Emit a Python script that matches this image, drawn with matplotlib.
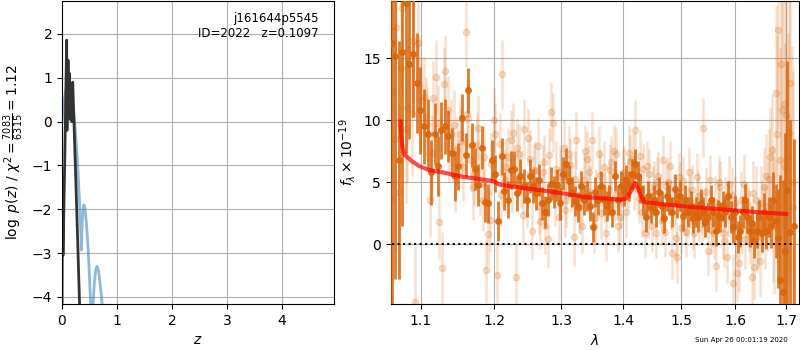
import matplotlib
matplotlib.use('Agg')
import matplotlib.pyplot as plt
import numpy as np
from matplotlib.ticker import NullLocator, NullFormatter

# --- p(z) panel ---
pz_z = [0.0, 0.03, 0.06, 0.09, 0.115, 0.14, 0.17, 0.20, 0.23, 0.26, 0.29, 0.32, 0.345, 0.351,
        0.37, 0.385, 0.40, 0.42, 0.45, 0.48, 0.50, 0.522, 0.54, 0.564, 0.59, 0.615, 0.636,
        0.665, 0.69, 0.71, 0.735, 0.76]
pz_logp = [0.0, 0.40, 0.67, 0.82, 0.85, 0.81, 0.66, 0.38, 0.0, -0.5, -1.1, -1.85, -2.6, -2.93,
           -2.25, -1.98, -1.9, -2.0, -2.4, -3.0, -3.55, -4.19, -4.5, -4.2, -3.65, -3.38, -3.3,
           -3.4, -3.65, -3.9, -4.2, -4.6]

chi_z = [0.0, 0.008, 0.018, 0.05, 0.085, 0.09, 0.11, 0.125, 0.135, 0.15, 0.165, 0.18, 0.195,
         0.21, 0.24, 0.28, 0.33]
chi_v = [-4.6, -1.6, -3.05, -0.9, 1.86, -0.2, 1.4, 0.4, 1.1, 0.05, 0.4, 0.0, 0.9, 0.3, -0.88,
         -2.5, -4.6]

# --- spectrum panel: combined (dark) points ---
dark_wave = [1.062, 1.067, 1.071, 1.076, 1.081, 1.085, 1.090, 1.095, 1.099, 1.104,
             1.109, 1.113, 1.118, 1.122, 1.127, 1.132, 1.136, 1.141, 1.146, 1.150,
             1.155, 1.160, 1.164, 1.169, 1.173, 1.178, 1.183, 1.187, 1.192, 1.197,
             1.201, 1.206, 1.211, 1.215, 1.220, 1.224, 1.229, 1.234, 1.238, 1.243,
             1.248, 1.252, 1.257, 1.262, 1.266, 1.271, 1.275, 1.280, 1.285, 1.289,
             1.294, 1.299, 1.303, 1.308, 1.313, 1.317, 1.322, 1.326, 1.331, 1.336,
             1.340, 1.345, 1.350, 1.354, 1.359, 1.364, 1.368, 1.373, 1.377, 1.382,
             1.387, 1.391, 1.396, 1.401, 1.405, 1.410, 1.415, 1.419, 1.424, 1.428,
             1.433, 1.438, 1.442, 1.447, 1.452, 1.456, 1.461, 1.466, 1.470, 1.475,
             1.479, 1.484, 1.489, 1.493, 1.498, 1.503, 1.507, 1.512, 1.517, 1.521,
             1.526, 1.530, 1.535, 1.540, 1.544, 1.549, 1.554, 1.558, 1.563, 1.568,
             1.572, 1.577, 1.581, 1.586, 1.591, 1.595, 1.600, 1.605, 1.609, 1.614,
             1.619, 1.623, 1.628, 1.632, 1.637, 1.642, 1.646, 1.651, 1.656, 1.660,
             1.665, 1.670, 1.674, 1.679, 1.683, 1.688, 1.693, 1.697, 1.702, 1.707,
             1.716]
dark_flux = [16.2, 15.2, 6.8, 15.5, 19.4, 14.5, 15.3, 13.0, 10.8, 9.5,
             8.9, 5.8, 8.9, 6.3, 9.2, 9.5, 8.7, 7.4, 5.5, 6.3,
             10.2, 7.2, 12.4, 8.0, 6.1, 4.8, 7.8, 3.4, 3.3, 6.8,
             5.7, 1.9, 7.1, 4.3, 3.6, 6.0, 6.1, 4.1, 5.5, 4.7,
             3.6, 5.5, 4.7, 4.1, 5.2, 3.3, 2.6, 3.6, 4.9, 4.2,
             4.8, 3.3, 5.7, 6.5, 5.1, 4.2, 3.5, 3.0, 4.7, 3.6,
             3.9, 3.1, 1.4, 4.2, 3.6, 4.7, 3.6, 3.1, 3.6, 2.6,
             5.5, 3.6, 4.7, 4.3, 5.2, 4.7, 5.7, 6.5, 5.5, 4.5,
             3.6, 2.2, 3.9, 2.9, 3.6, 2.6, 4.2, 3.1, 2.1, 3.9,
             3.6, 2.6, 4.5, 3.3, 3.9, 2.3, 3.6, 2.6, 3.1, 2.1,
             2.6, 2.2, 3.3, 2.6, 1.8, 2.2, 3.6, 2.6, 1.1, 2.4,
             2.2, 3.1, 2.6, 3.9, 2.2, 1.4, 2.6, 0.6, 1.1, 2.6,
             3.6, 2.2, 1.1, 1.7, 0.3, 1.1, 2.2, 0.9, 2.6, 1.1,
             2.2, 1.5, 3.6, 1.9, 0.5, -2.9, -3.8, -0.5, 4.4, 1.0,
             1.5]
dark_err = [22, 18, 9.6, 14, 12, 6.0, 5.0, 4.0, 3.5, 3.0,
            2.8, 2.6, 2.5, 2.4, 2.3, 2.2, 2.1, 2.0, 2.0, 1.9,
            1.9, 1.8, 1.8, 1.8, 1.7, 1.7, 1.7, 1.6, 1.6, 1.6,
            1.5, 1.6, 1.5, 1.5, 1.5, 1.5, 1.4, 1.4, 1.4, 1.4,
            1.4, 1.4, 1.4, 1.3, 1.3, 1.3, 1.3, 1.3, 1.3, 1.3,
            1.3, 1.3, 1.3, 1.3, 1.3, 1.2, 1.2, 1.2, 1.2, 1.2,
            1.2, 1.2, 1.2, 1.2, 1.2, 1.2, 1.2, 1.2, 1.2, 1.2,
            1.2, 1.2, 1.2, 1.2, 1.2, 1.2, 1.2, 1.2, 1.2, 1.2,
            1.2, 1.2, 1.2, 1.2, 1.2, 1.2, 1.2, 1.2, 1.2, 1.2,
            1.2, 1.2, 1.2, 1.2, 1.2, 1.2, 1.2, 1.2, 1.2, 1.2,
            1.2, 1.2, 1.2, 1.2, 1.2, 1.2, 1.2, 1.2, 1.2, 1.2,
            1.2, 1.2, 1.2, 1.2, 1.3, 1.3, 1.3, 1.3, 1.3, 1.3,
            1.3, 1.3, 1.3, 1.4, 1.4, 1.4, 1.4, 1.5, 1.5, 1.5,
            1.6, 1.8, 2.2, 3.0, 4.0, 8.5, 9.0, 9.5, 10.4, 9.0,
            7.0]

# --- spectrum panel: individual (light) points, first set ---
light_wave = [1.064, 1.068, 1.072, 1.076, 1.080, 1.084, 1.088, 1.092, 1.096, 1.100,
              1.104, 1.108, 1.112, 1.116, 1.120, 1.124, 1.128, 1.132, 1.136, 1.140,
              1.144, 1.148, 1.152, 1.156, 1.160, 1.164, 1.168, 1.172, 1.176, 1.180,
              1.184, 1.188, 1.192, 1.196, 1.200, 1.204, 1.208, 1.212, 1.216, 1.220,
              1.224, 1.228, 1.232, 1.236, 1.240, 1.244, 1.248, 1.252, 1.256, 1.260,
              1.264, 1.268, 1.272, 1.276, 1.280, 1.284, 1.288, 1.292, 1.296, 1.300,
              1.304, 1.308, 1.312, 1.316, 1.320, 1.324, 1.328, 1.332, 1.336, 1.340,
              1.344, 1.348, 1.352, 1.356, 1.360, 1.364, 1.368, 1.372, 1.376, 1.380,
              1.384, 1.388, 1.392, 1.396, 1.400, 1.404, 1.408, 1.412, 1.416, 1.420,
              1.424, 1.428, 1.432, 1.436, 1.440, 1.444, 1.448, 1.452, 1.456, 1.460,
              1.464, 1.468, 1.472, 1.476, 1.480, 1.484, 1.488, 1.492, 1.496, 1.500,
              1.504, 1.508, 1.512, 1.516, 1.520, 1.524, 1.528, 1.532, 1.536, 1.540,
              1.544, 1.548, 1.552, 1.556, 1.560, 1.564, 1.568, 1.572, 1.576, 1.580,
              1.584, 1.588, 1.592, 1.596, 1.600, 1.604, 1.608, 1.612, 1.616, 1.620,
              1.624, 1.628, 1.632, 1.636, 1.640, 1.644, 1.648, 1.652, 1.656, 1.660,
              1.664, 1.668, 1.672, 1.676, 1.680, 1.684, 1.688, 1.692, 1.696, 1.700,
              1.704, 1.708, 1.712]
light_flux = [12.3, 17.5, 4.2, 19.0, 9.3, 15.7, 10.5, -4.6, 16.2, 11.6,
              11.9, 9.7, 3.6, 11.8, 13.5, 1.8, -1.9, 14.0, 10.8, 8.9,
              9.6, 7.6, 8.9, 6.2, 17.1, 10.2, 6.8, 5.7, 8.0, 4.9,
              3.6, -2.1, 0.8, 6.5, 10.0, -2.5, 8.1, 13.7, 5.2, 7.0,
              8.4, 9.0, -2.6, 7.3, 5.2, 9.3, 3.6, 6.9, 1.1, 6.0,
              7.9, 1.9, 5.8, 1.5, 0.4, 10.7, 9.8, 6.1, 2.2, 5.4,
              7.8, 3.6, 7.3, 4.8, 0.6, 8.4, 3.1, 1.5, 5.2, 6.9,
              5.8, 8.4, 1.5, 4.0, 7.3, 2.5, 6.2, 0.9, 4.4, 6.6,
              7.5, 7.3, 1.5, 3.4, 5.6, 2.6, 4.9, 6.7, 6.9, 9.2,
              4.4, 7.1, 2.6, 0.9, 6.3, 5.7, 1.5, 4.7, 0.9, 5.5,
              3.1, 6.8, 1.0, 5.0, 6.3, -0.7, 3.6, -1.0, 5.4, 1.3,
              5.1, 1.0, 2.6, 3.6, 4.4, 0.9, 5.4, 2.2, 3.0, 9.4,
              2.6, -0.5, 5.2, 1.8, 0.9, -1.7, 3.1, 4.6, 0.9, 3.3,
              -1.0, 4.9, 2.4, -3.1, 3.3, -2.3, -1.5, 1.5, 4.9, 2.6,
              2.2, 0.9, -2.6, -1.8, 3.6, 0.9, -1.3, 2.2, 4.6, 5.5,
              3.1, 7.0, 7.6, 1.5, 12.2, 17.3, 6.8, 10.8, 11.3, 10.4,
              7.0, 13.0, 5.0]
light_err = [9, 8, 7, 7, 6, 5, 5, 4.5, 4, 3.5,
             3.2, 3.0, 3.0, 3.0, 3.0, 3.0, 2.9, 2.8, 2.8, 2.8,
             2.8, 2.7, 2.7, 2.7, 2.8, 2.6, 2.6, 2.6, 2.6, 2.5,
             2.5, 2.6, 2.5, 2.5, 2.6, 2.5, 2.5, 2.8, 2.4, 2.4,
             2.4, 2.4, 2.6, 2.4, 2.3, 2.4, 2.3, 2.3, 2.3, 2.3,
             2.3, 2.3, 2.2, 2.3, 2.3, 2.4, 2.4, 2.2, 2.2, 2.2,
             2.2, 2.2, 2.2, 2.2, 2.3, 2.3, 2.2, 2.2, 2.2, 2.2,
             2.2, 2.3, 2.2, 2.1, 2.2, 2.1, 2.1, 2.2, 2.1, 2.1,
             2.1, 2.1, 2.1, 2.1, 2.1, 2.1, 2.1, 2.1, 2.1, 2.4,
             2.0, 2.1, 2.0, 2.0, 2.0, 2.0, 2.0, 2.0, 2.0, 2.0,
             2.0, 2.0, 2.0, 2.0, 2.0, 2.1, 2.0, 2.1, 2.0, 2.0,
             2.0, 2.0, 2.0, 2.0, 2.0, 2.0, 2.0, 2.0, 2.0, 2.4,
             2.0, 2.0, 2.0, 2.0, 2.1, 2.1, 2.1, 2.1, 2.1, 2.1,
             2.1, 2.2, 2.2, 2.3, 2.2, 2.3, 2.3, 2.3, 2.4, 2.4,
             2.4, 2.5, 2.6, 2.6, 2.7, 2.8, 2.9, 3.0, 3.2, 3.4,
             3.6, 4.0, 4.5, 5.5, 7.0, 8.0, 9.0, 9.5, 10, 10,
             10, 11, 11]

# --- individual (light) points, second set ---
light2_wave = [1.066, 1.074, 1.082, 1.090, 1.098, 1.106, 1.114, 1.122, 1.130, 1.138,
               1.146, 1.154, 1.162, 1.170, 1.178, 1.186, 1.194, 1.202, 1.210, 1.218,
               1.226, 1.234, 1.242, 1.250, 1.258, 1.266, 1.274, 1.282, 1.290, 1.298,
               1.306, 1.314, 1.322, 1.330, 1.338, 1.346, 1.354, 1.362, 1.370, 1.378,
               1.386, 1.394, 1.402, 1.410, 1.418, 1.426, 1.434, 1.442, 1.450, 1.458,
               1.466, 1.474, 1.482, 1.490, 1.498, 1.506, 1.514, 1.522, 1.530, 1.538,
               1.546, 1.554, 1.562, 1.570, 1.578, 1.586, 1.594, 1.602, 1.610, 1.618,
               1.626, 1.634, 1.642, 1.650, 1.658, 1.666, 1.674, 1.682, 1.690, 1.698,
               1.706, 1.714]
light2_flux = [8.5, 14.2, 11.0, 16.4, 12.8, 10.3, 7.4, 9.8, 12.9, 7.8,
               5.3, 8.3, 10.5, 4.6, 9.4, 7.0, 2.0, 8.9, 4.0, 6.2,
               4.9, 7.8, 2.4, 8.6, 5.9, 3.1, 6.6, 7.2, 3.7, 5.8,
               2.8, 6.4, 5.3, 3.0, 7.5, 4.2, 2.1, 5.6, 3.8, 6.0,
               4.0, 2.2, 5.8, 7.4, 4.9, 3.7, 6.1, 2.4, 4.3, 5.0,
               2.0, 4.7, 3.2, 0.5, 4.6, 2.7, 5.8, 1.6, 3.9, 2.3,
               4.2, 1.2, 3.4, 5.0, 0.3, 2.9, 4.0, 1.1, 3.6, 0.4,
               1.9, 4.1, 0.6, 3.3, 1.4, 5.3, 2.5, 8.9, 14.5, 6.2,
               9.0, 3.0]
light2_err = [9, 7, 6, 5, 4, 3.2, 3.0, 3.0, 2.9, 2.8,
              2.7, 2.7, 2.7, 2.6, 2.6, 2.5, 2.5, 2.5, 2.5, 2.4,
              2.4, 2.4, 2.3, 2.3, 2.3, 2.3, 2.2, 2.2, 2.2, 2.2,
              2.2, 2.2, 2.2, 2.2, 2.1, 2.1, 2.1, 2.1, 2.1, 2.1,
              2.1, 2.1, 2.1, 2.1, 2.1, 2.0, 2.0, 2.0, 2.0, 2.0,
              2.0, 2.0, 2.0, 2.0, 2.0, 2.0, 2.0, 2.0, 2.0, 2.0,
              2.0, 2.0, 2.1, 2.1, 2.1, 2.2, 2.2, 2.3, 2.3, 2.4,
              2.5, 2.6, 2.8, 3.0, 3.4, 4.0, 5.5, 8, 10, 10,
              11, 11]

# --- best-fit model ---
model_wave = [1.0737, 1.0745, 1.0760, 1.079, 1.088, 1.098, 1.110, 1.129, 1.156, 1.199, 1.209,
              1.248, 1.292, 1.338, 1.370, 1.396, 1.405, 1.412, 1.420, 1.426, 1.430, 1.436,
              1.465, 1.522, 1.581, 1.641, 1.700]
model_flux = [9.9, 8.8, 7.8, 7.2, 6.7, 6.3, 6.0, 5.8, 5.45, 5.1, 4.8,
              4.5, 4.2, 3.8, 3.7, 3.6, 3.7, 4.2, 4.95, 4.4, 3.9, 3.4,
              3.25, 3.0, 2.8, 2.6, 2.45]

wave_ticks = [1.1, 1.2, 1.3, 1.4, 1.5, 1.6, 1.7]

orange = '#d9650b'

fig = plt.figure(figsize=(8, 3.5), dpi=100)
ax1 = fig.add_axes([0.0775, 0.1314, 0.34, 0.8657])
ax2 = fig.add_axes([0.4884, 0.1314, 0.5108, 0.8657])

ax1.plot(pz_z, pz_logp, color='#1f77b4', alpha=0.5, lw=2)
ax1.plot(chi_z, chi_v, color='0.2', lw=2)
ax1.set_xlim(0, 4.95)
ax1.set_ylim(-4.16, 2.75)
ax1.set_xticks([0, 1, 2, 3, 4])
ax1.set_yticks([-4, -3, -2, -1, 0, 1, 2])
ax1.grid()
ax1.set_xlabel('$z$')
ax1.set_ylabel(r'$\log\ p(z)$ / $\chi^2=\frac{7083}{6315}=1.12$')
ax1.text(0.945, 0.965, 'j161644p5545\nID=2022   z=0.1097', ha='right', va='top',
         transform=ax1.transAxes, fontsize=8.5)

for w, f, e in [(light_wave, light_flux, light_err), (light2_wave, light2_flux, light2_err)]:
    ax2.errorbar(w, f, yerr=e, marker='o', ms=4.5, linestyle='none',
                 color=orange, alpha=0.2, elinewidth=1.8, zorder=2)
ax2.errorbar(dark_wave, dark_flux, yerr=dark_err, marker='o', ms=4, linestyle='none',
             color=orange, alpha=0.85, elinewidth=2.0, zorder=3)
ax2.plot(model_wave, model_flux, color='r', alpha=0.7, lw=3, zorder=4)
ax2.plot([light_wave[0] - 0.0015, dark_wave[-1]], [0, 0], color='k', linestyle=':', lw=1.5, zorder=5)

ax2.set_xscale('log')
ax2.set_xlim(1.061, 1.727)
ax2.set_ylim(-4.8, 19.6)
ax2.set_xticks(wave_ticks)
ax2.set_xticklabels(['{:.1f}'.format(t) for t in wave_ticks])
ax2.xaxis.set_minor_locator(NullLocator())
ax2.xaxis.set_minor_formatter(NullFormatter())
ax2.set_yticks([0, 5, 10, 15])
ax2.grid()
ax2.set_xlabel(r'$\lambda$')
ax2.set_ylabel(r'$f_\lambda\times10^{-19}$')

fig.text(0.985, 0.029, 'Sun Apr 26 00:01:19 2020', ha='right', va='center', fontsize=5)

fig.savefig('out.png', dpi=100)
